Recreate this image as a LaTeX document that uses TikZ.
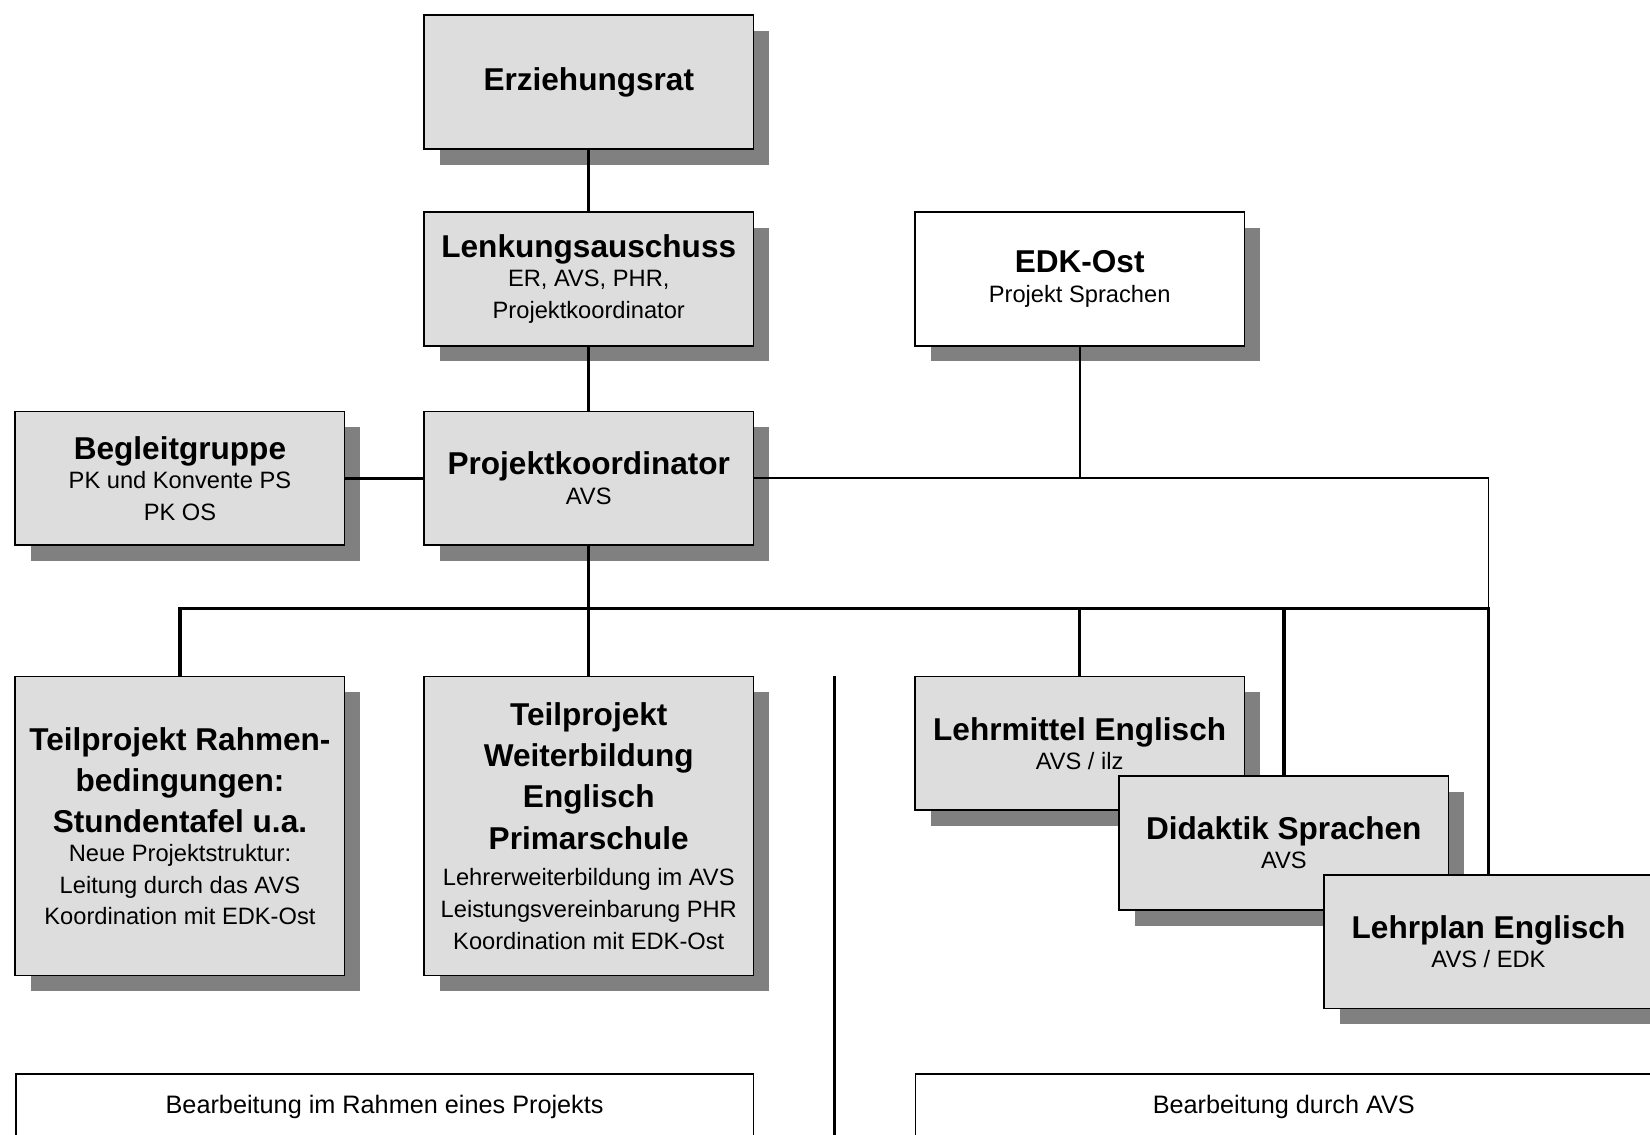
\documentclass[tikz,border=0pt]{standalone}
\usepackage{fontspec}
\setmainfont{Liberation Sans}
\usetikzlibrary{shadows}
\definecolor{boxgray}{HTML}{DDDDDD}
\definecolor{shadowgray}{HTML}{808080}
\newcommand{\ttl}{\fontsize{15}{19.5}\selectfont\bfseries}
\newcommand{\subtxt}{\fontsize{11.25}{15}\selectfont\mdseries}
\newcommand{\foottxt}{\fontsize{12}{15}\selectfont\mdseries}
\begin{document}
\begin{tikzpicture}[x=0.5pt,y=-0.5pt,
  box/.style={draw=black, line width=0.8pt, inner sep=0pt, align=center,
    minimum width=156.5pt, minimum height=63.5pt,
    drop shadow={shadow xshift=7.5pt, shadow yshift=-7.5pt, fill=shadowgray, opacity=1}},
  gbox/.style={box, fill=boxgray},
  wbox/.style={box, fill=white},
  tallbox/.style={gbox, minimum height=142pt},
  footbox/.style={draw=black, line width=0.8pt, fill=white, anchor=north,
    inner xsep=0pt, inner ysep=10pt, text height=8.5pt, text depth=2.5pt,
    font=\foottxt},
  thickline/.style={line width=1.6pt},
  thinline/.style={line width=0.8pt}]
\path[use as bounding box] (0,0) rectangle (1568,1078);
\clip (0,0) rectangle (1568,1078);

\node[gbox] (erz) at (559.5,78) {\ttl Erziehungsrat};
\node[gbox] (lenk) at (559.5,265) {\ttl Lenkungsauschuss\\[2pt] \subtxt ER, AVS, PHR,\\[3pt] \subtxt Projektkoordinator};
\node[wbox] (edk) at (1026,265) {\ttl EDK-Ost\\[2pt] \subtxt Projekt Sprachen};
\node[gbox] (beg) at (171,454.5) {\ttl Begleitgruppe\\[2pt] \subtxt PK und Konvente PS\\[3pt] \subtxt PK OS};
\node[gbox] (pk) at (559.5,454.5) {\ttl Projektkoordinator\\[2pt] \subtxt AVS};
\node[tallbox] (rahmen) at (171,785) {\ttl Teilprojekt Rahmen-\\[4.5pt] \ttl bedingungen:\\[4.5pt] \ttl Stundentafel u.a.\\[2pt] \subtxt Neue Projektstruktur:\\[3pt] \subtxt Leitung durch das AVS\\[3pt] \subtxt Koordination mit EDK-Ost};
\node[tallbox] (weiter) at (559.5,785) {\ttl Teilprojekt\\[4.5pt] \ttl Weiterbildung\\[4.5pt] \ttl Englisch\\[4.5pt] \ttl Primarschule\\[5.5pt] \subtxt Lehrerweiterbildung im AVS\\[3pt] \subtxt Leistungsvereinbarung PHR\\[3pt] \subtxt Koordination mit EDK-Ost};
\node[gbox] (lm) at (1026,706.5) {\ttl Lehrmittel Englisch\\[2pt] \subtxt AVS / ilz};
\node[gbox] (did) at (1220,801) {\ttl Didaktik Sprachen\\[2pt] \subtxt AVS};
\node[gbox] (lp) at (1414.5,895) {\ttl Lehrplan Englisch\\[2pt] \subtxt AVS / EDK};

\node[footbox, minimum width=350.5pt] (foot1) at (365.5,1020) {Bearbeitung im Rahmen eines Projekts};
\node[footbox, minimum width=350pt] (foot2) at (1220,1020) {Bearbeitung durch AVS};

\coordinate (busL) at (171,578);
\coordinate (sepTop) at (793,642);
\coordinate (sepBot) at (793,1090);

\draw[thickline] (erz.south) -- (lenk.north);
\draw[thickline] (lenk.south) -- (pk.north);
\draw[thickline] (beg.east) -- (pk.west);
\draw[thinline] (pk.east) -- (lp.north |- pk.east) -- (lp.north |- busL);
\draw[thinline] (edk.south) -- (edk.south |- pk.east);
\draw[thickline] (pk.south) -- (pk.south |- busL);
\draw[thickline] (rahmen.north) -- (rahmen.north |- busL) -- (lp.north |- busL) -- (lp.north);
\draw[thickline] (weiter.north) -- (weiter.north |- busL);
\draw[thickline] (lm.north) -- (lm.north |- busL);
\draw[thickline] (did.north) -- (did.north |- busL);
\draw[thickline] (sepTop) -- (sepBot);
\end{tikzpicture}
\end{document}
